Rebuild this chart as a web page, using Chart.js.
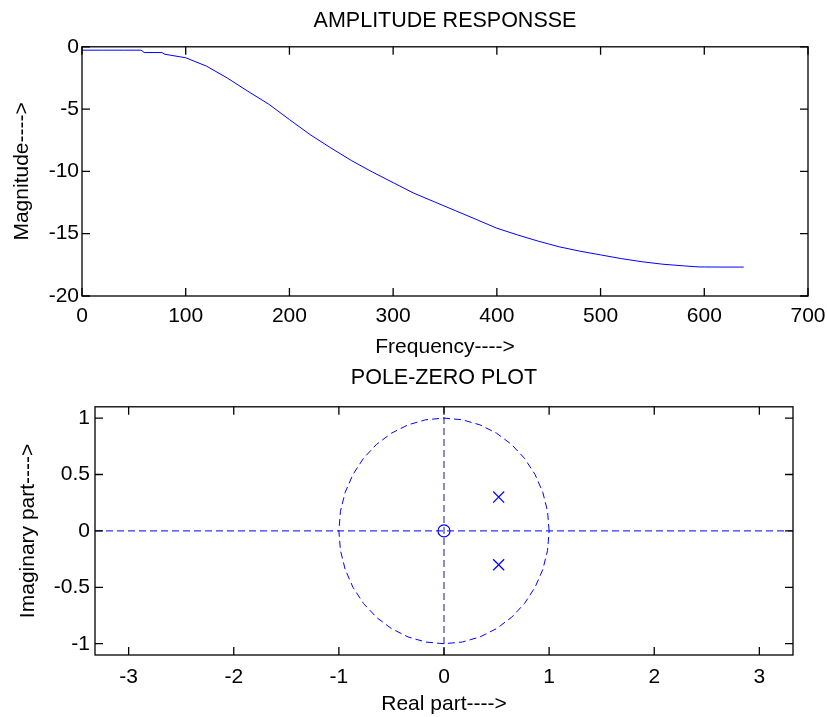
<!DOCTYPE html>
<html lang="en">
<head>
<meta charset="UTF-8">
<title>Amplitude response and pole-zero plot</title>
<script src="https://cdn.jsdelivr.net/npm/chart.js"></script>
<style>
    body { margin: 0; background: #fff; overflow: hidden; }
    .box { position: absolute; left: 0; width: 827px; }
    #top-box { top: 0; height: 360px; }
    #bottom-box { top: 360px; height: 357px; }
</style>
</head>
<body>
<div class="box" id="top-box"><canvas id="amplitude"></canvas></div>
<div class="box" id="bottom-box"><canvas id="polezero"></canvas></div>
<script>
// amplitude response
var freq = [0, 20, 40, 57, 60, 77, 80, 100, 120, 140, 160, 180, 200, 220, 240, 260, 280, 300,
    320, 340, 360, 380, 400, 420, 440, 460, 480, 500, 520, 540, 560, 580, 595, 600, 620, 638];
var magnitude = [-0.27, -0.27, -0.27, -0.27, -0.46, -0.46, -0.6, -0.88, -1.55, -2.5, -3.57, -4.6, -5.84,
    -7.05, -8.12, -9.14, -10.05, -10.9, -11.75, -12.45, -13.15, -13.85, -14.56, -15.1, -15.6,
    -16.05, -16.4, -16.7, -17.0, -17.25, -17.45, -17.58, -17.67, -17.67, -17.68, -17.68];
var freqTicks = [0, 100, 200, 300, 400, 500, 600, 700];
var magTicks = [-20, -15, -10, -5, 0];

// pole-zero plot
var zeroRe = [0];
var zeroIm = [0];
var poleRe = [0.52, 0.52];
var poleIm = [0.3, -0.3];
// unit circle, every 10 degrees
var circleRe = [1, 0.985, 0.940, 0.866, 0.766, 0.643, 0.5, 0.342, 0.174, 0, -0.174, -0.342, -0.5, -0.643,
    -0.766, -0.866, -0.940, -0.985, -1, -0.985, -0.940, -0.866, -0.766, -0.643, -0.5, -0.342, -0.174,
    0, 0.174, 0.342, 0.5, 0.643, 0.766, 0.866, 0.940, 0.985, 1];
var circleIm = [0, 0.174, 0.342, 0.5, 0.643, 0.766, 0.866, 0.940, 0.985, 1, 0.985, 0.940, 0.866, 0.766,
    0.643, 0.5, 0.342, 0.174, 0, -0.174, -0.342, -0.5, -0.643, -0.766, -0.866, -0.940, -0.985,
    -1, -0.985, -0.940, -0.866, -0.766, -0.643, -0.5, -0.342, -0.174, 0];
var reLimits = [-3.32, 3.32];
var imLimits = [-1.1, 1.1];
var reTicks = [-3, -2, -1, 0, 1, 2, 3];
var imTicks = [-1, -0.5, 0, 0.5, 1];

var FONT = { family: '"Liberation Sans", Arial, sans-serif', size: 21 };
var BLUE = '#0000ff';

function pares(xs, ys) {
    var out = [];
    for (var i = 0; i < xs.length; i++) out.push({ x: xs[i], y: ys[i] });
    return out;
}

// matlab style box with inward ticks on all four sides
var caixaMatlab = {
    id: 'caixaMatlab',
    afterDraw: function (chart) {
        var a = chart.chartArea, ctx = chart.ctx, len = 8;
        ctx.save();
        ctx.strokeStyle = '#000';
        ctx.lineWidth = 1.3;
        ctx.strokeRect(a.left, a.top, a.right - a.left, a.bottom - a.top);
        ctx.beginPath();
        chart.scales.x.ticks.forEach(function (t) {
            var px = chart.scales.x.getPixelForValue(t.value);
            ctx.moveTo(px, a.bottom); ctx.lineTo(px, a.bottom - len);
            ctx.moveTo(px, a.top); ctx.lineTo(px, a.top + len);
        });
        chart.scales.y.ticks.forEach(function (t) {
            var py = chart.scales.y.getPixelForValue(t.value);
            ctx.moveTo(a.left, py); ctx.lineTo(a.left + len, py);
            ctx.moveTo(a.right, py); ctx.lineTo(a.right - len, py);
        });
        ctx.stroke();
        ctx.restore();
    }
};

function eixo(min, max, ticks, largura, altura, titulo, tituloPad, tickPad) {
    var cfg = {
        type: 'linear',
        min: min,
        max: max,
        grid: { display: false, drawTicks: false },
        border: { display: false },
        ticks: {
            color: '#000',
            font: FONT,
            padding: tickPad,
            callback: function (v) { return String(v); }
        },
        title: { display: true, text: titulo, color: '#000', font: FONT, padding: tituloPad },
        afterBuildTicks: function (s) {
            s.ticks = ticks.map(function (v) { return { value: v }; });
        },
        afterFit: function (s) {
            if (largura) s.width = largura;
            if (altura) s.height = altura;
            // let layout padding decide the chart area, not label overhang
            s.paddingLeft = 0;
            s.paddingRight = 0;
            s.paddingTop = 0;
            s.paddingBottom = 0;
        }
    };
    return cfg;
}

new Chart(document.getElementById('amplitude'), {
    type: 'line',
    data: {
        datasets: [{
            data: pares(freq, magnitude),
            borderColor: BLUE,
            borderWidth: 1,
            pointRadius: 0,
            fill: false,
            tension: 0
        }]
    },
    options: {
        responsive: true,
        maintainAspectRatio: false,
        animation: false,
        layout: { padding: { left: 0, right: 19, top: 0, bottom: 0 } },
        plugins: {
            legend: { display: false },
            tooltip: { enabled: false },
            title: {
                display: true,
                fullSize: false,
                text: 'AMPLITUDE RESPONSSE',
                color: '#000',
                font: { family: FONT.family, size: 21.5, weight: 'normal' },
                padding: { top: 8, bottom: 13 }
            }
        },
        scales: {
            x: eixo(0, 700, freqTicks, 0, 64, 'Frequency---->', { top: 0, bottom: 0 }, 8),
            y: eixo(-20, 0, magTicks, 82, 0, 'Magnitude---->', { top: 10, bottom: 0 }, 3)
        }
    },
    plugins: [caixaMatlab]
});

new Chart(document.getElementById('polezero'), {
    type: 'scatter',
    data: {
        datasets: [{
            // unit circle
            data: pares(circleRe, circleIm),
            showLine: true,
            borderColor: BLUE,
            borderWidth: 1,
            borderDash: [7, 4],
            pointRadius: 0
        }, {
            // real axis
            data: pares(reLimits, [0, 0]),
            showLine: true,
            borderColor: BLUE,
            borderWidth: 1,
            borderDash: [7, 4],
            pointRadius: 0
        }, {
            // imaginary axis
            data: pares([0, 0], imLimits),
            showLine: true,
            borderColor: '#1a1a8c',
            borderWidth: 1,
            borderDash: [7, 4],
            pointRadius: 0
        }, {
            // zeros
            data: pares(zeroRe, zeroIm),
            pointStyle: 'circle',
            pointRadius: 6,
            borderColor: BLUE,
            backgroundColor: 'rgba(0,0,0,0)',
            pointBorderWidth: 1.2
        }, {
            // poles
            data: pares(poleRe, poleIm),
            pointStyle: 'crossRot',
            pointRadius: 7.8,
            borderColor: BLUE,
            pointBorderWidth: 1.2
        }]
    },
    options: {
        responsive: true,
        maintainAspectRatio: false,
        animation: false,
        layout: { padding: { left: 0, right: 34, top: 0, bottom: 0 } },
        plugins: {
            legend: { display: false },
            tooltip: { enabled: false },
            title: {
                display: true,
                fullSize: false,
                text: 'POLE-ZERO PLOT',
                color: '#000',
                font: { family: FONT.family, size: 21.5, weight: 'normal' },
                padding: { top: 5, bottom: 16 }
            }
        },
        scales: {
            x: eixo(reLimits[0], reLimits[1], reTicks, 0, 62, 'Real part---->', { top: 0, bottom: 0 }, 10),
            y: eixo(imLimits[0], imLimits[1], imTicks, 95, 0, 'Imaginary part---->', { top: 16, bottom: 0 }, 5)
        }
    },
    plugins: [caixaMatlab]
});
</script>
</body>
</html>
